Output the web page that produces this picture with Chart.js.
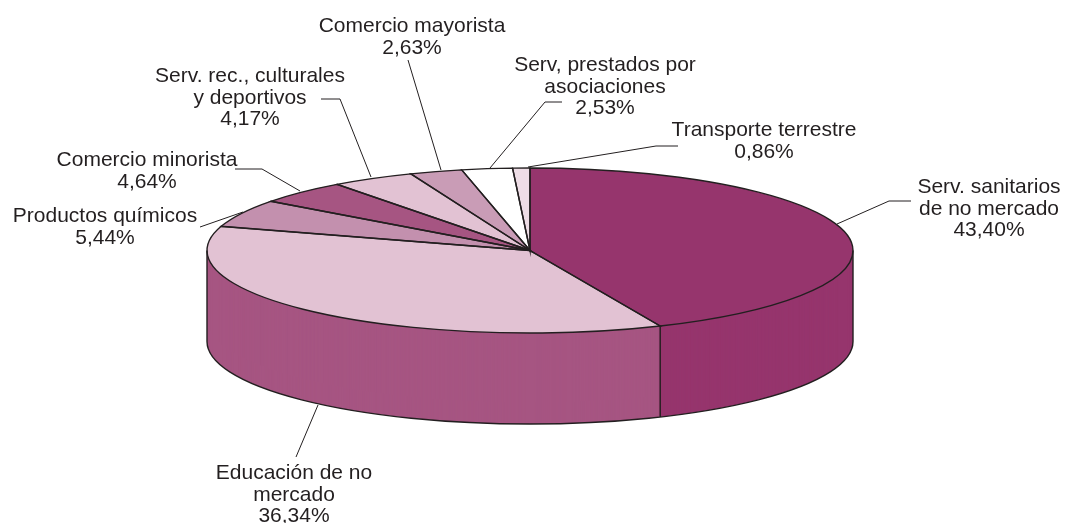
<!DOCTYPE html>
<html>
<head>
<meta charset="utf-8">
<title>Pie</title>
<style>
  html, body { margin: 0; padding: 0; background: #fff; overflow: hidden; }
  canvas { display: block; }
</style>
<script src="https://cdn.jsdelivr.net/npm/chart.js@4"></script>
</head>
<body>
<canvas id="chart" width="1065" height="523" style="width:1065px;height:523px"></canvas>
<script>
const categories = [
    'Serv. sanitarios de no mercado',
    'Educación de no mercado',
    'Productos químicos',
    'Comercio minorista',
    'Serv. rec., culturales y deportivos',
    'Comercio mayorista',
    'Serv, prestados por asociaciones',
    'Transporte terrestre'
];
const shares = [43.40, 36.34, 5.44, 4.64, 4.17, 2.63, 2.53, 0.86];
const topColors = ['#96356d', '#e2c2d3', '#c390ae', '#a65582', '#e2c2d3', '#c99cb6', '#ffffff', '#eedde6'];
const sideColors = ['#96356d', '#a65582', '#c390ae', '#a65582', '#e2c2d3', '#c99cb6', '#ffffff', '#eedde6'];

// how each label wraps, its centre x and the baseline of the first line
const labelLines = [
    ['Serv. sanitarios', 'de no mercado'],
    ['Educación de no', 'mercado'],
    ['Productos químicos'],
    ['Comercio minorista'],
    ['Serv. rec., culturales', 'y deportivos'],
    ['Comercio mayorista'],
    ['Serv, prestados por', 'asociaciones'],
    ['Transporte terrestre']
];
const labelX = [989, 294, 105, 147, 250, 412, 605, 764];
const labelY = [193, 479, 222, 166, 82, 32, 71, 136];
const leaders = [
    [[911, 201], [889, 201], [837, 224]],
    [[318, 405], [296, 457]],
    [[200, 227], [243, 212]],
    [[235, 169], [262, 169], [300, 191]],
    [[321, 99], [340, 99], [371, 177]],
    [[408, 60], [441, 170]],
    [[562, 102], [545, 102], [490, 168]],
    [[678, 146], [656, 146], [528, 167]]
];

const pieRadius = 323;
const squash = 82.5 / 323;
const depth = 91;
const inkColor = '#231f20';

function withSquash(ctx, cx, cy, dy, draw) {
    ctx.save();
    ctx.translate(cx, cy + dy);
    ctx.scale(1, squash);
    ctx.translate(-cx, -cy);
    draw();
    ctx.restore();
}

const pie3d = {
    id: 'pie3d',
    // the library's own arcs are drawn here, squashed and stacked, instead of flat
    beforeDatasetDraw(chart) {
        const ctx = chart.ctx;
        const arcs = chart.getDatasetMeta(0).data;
        const cx = arcs[0].x;
        const cy = arcs[0].y;
        const ry = pieRadius * squash;

        for (let d = depth; d >= 1; d--) {
            withSquash(ctx, cx, cy, d, () => {
                arcs.forEach((arc, i) => {
                    const saved = arc.options;
                    arc.options = { ...saved, backgroundColor: sideColors[i] };
                    arc.draw(ctx);
                    arc.options = saved;
                });
            });
        }

        withSquash(ctx, cx, cy, 0, () => arcs.forEach(arc => arc.draw(ctx)));

        // outlines stay the same width all round, so they are stroked outside the squash
        ctx.save();
        ctx.strokeStyle = inkColor;
        ctx.lineWidth = 1.4;
        arcs.forEach(arc => {
            ctx.beginPath();
            ctx.moveTo(cx, cy);
            ctx.ellipse(cx, cy, pieRadius, ry, 0, arc.startAngle, arc.endAngle);
            ctx.closePath();
            ctx.stroke();
        });
        ctx.beginPath();
        ctx.ellipse(cx, cy + depth, pieRadius, ry, 0, 0, Math.PI);
        ctx.moveTo(cx + pieRadius, cy);
        ctx.lineTo(cx + pieRadius, cy + depth);
        ctx.moveTo(cx - pieRadius, cy);
        ctx.lineTo(cx - pieRadius, cy + depth);
        const seamX = cx + pieRadius * Math.cos(arcs[0].endAngle);
        const seamY = cy + ry * Math.sin(arcs[0].endAngle);
        ctx.moveTo(seamX, seamY);
        ctx.lineTo(seamX, seamY + depth);
        ctx.stroke();
        ctx.restore();
        return false;
    },
    afterDraw(chart) {
        const ctx = chart.ctx;
        ctx.save();
        ctx.strokeStyle = inkColor;
        ctx.lineWidth = 1;
        leaders.forEach(points => {
            ctx.beginPath();
            points.forEach((p, i) => i ? ctx.lineTo(p[0], p[1]) : ctx.moveTo(p[0], p[1]));
            ctx.stroke();
        });
        ctx.fillStyle = inkColor;
        ctx.font = '21px "Liberation Sans", Arial, sans-serif';
        ctx.textAlign = 'center';
        ctx.textBaseline = 'alphabetic';
        labelLines.forEach((lines, i) => {
            const all = lines.concat(shares[i].toFixed(2).replace('.', ',') + '%');
            all.forEach((line, j) => ctx.fillText(line, labelX[i], labelY[i] + j * 21.5));
        });
        ctx.restore();
    }
};

new Chart(document.getElementById('chart'), {
    type: 'pie',
    data: {
        labels: categories,
        datasets: [{
            data: shares,
            backgroundColor: topColors,
            borderWidth: 0
        }]
    },
    options: {
        responsive: false,
        animation: false,
        radius: pieRadius,
        layout: { padding: { right: 5, bottom: 22 } },
        plugins: {
            legend: { display: false },
            tooltip: { enabled: false }
        }
    },
    plugins: [pie3d]
});
</script>
</body>
</html>
